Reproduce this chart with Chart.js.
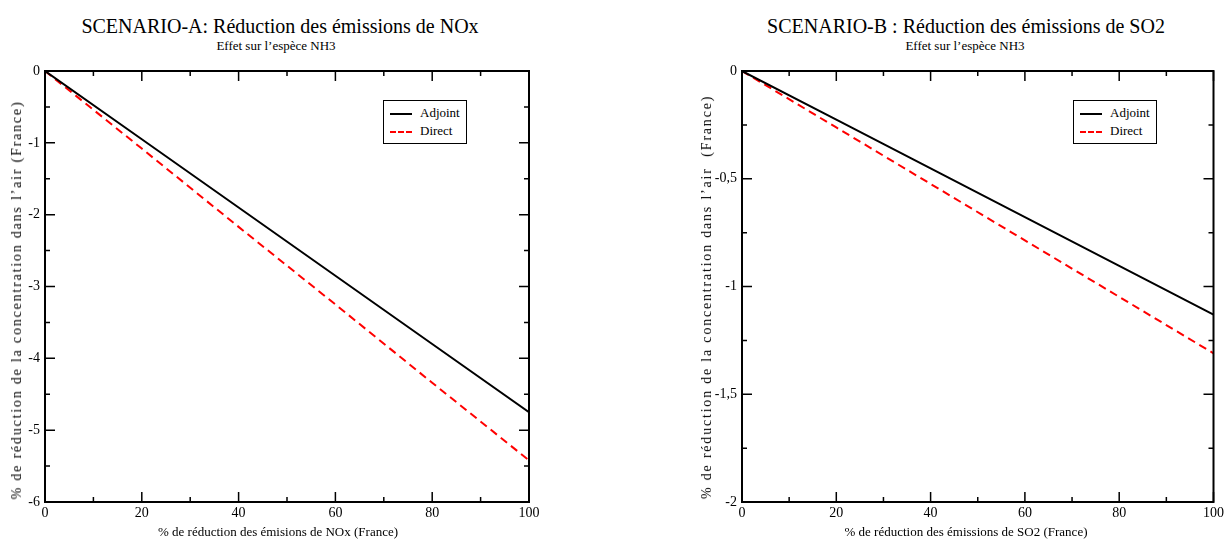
<!DOCTYPE html>
<html>
<head>
<meta charset="utf-8">
<script src="https://cdn.jsdelivr.net/npm/chart.js@4.4.1/dist/chart.umd.min.js"></script>
<style>
  body { margin: 0; background: #fff; width: 1227px; height: 541px; overflow: hidden; position: relative;
         font-family: "Liberation Serif", "Times New Roman", serif; color: #000; }
  .wrap { position: absolute; top: 0; }
  .title { position: absolute; font-size: 20px; line-height: 1; white-space: nowrap; transform: translateX(-50%); }
  .sub { position: absolute; font-size: 13px; line-height: 1; white-space: nowrap; transform: translateX(-50%); }
  .xt { position: absolute; font-size: 13px; line-height: 1; white-space: nowrap; transform: translateX(-50%); }
  .yt { position: absolute; font-size: 14px; line-height: 1; white-space: nowrap; letter-spacing: 1.8px;
        transform: translate(-50%, -50%) rotate(-90deg); }
  .legend { position: absolute; border: 1px solid #000; background: #fff; font-size: 13px; padding: 3px 6px 3px 6px; }
  .legend div { height: 18px; line-height: 18px; white-space: nowrap; }
  .sw { display: inline-block; width: 22px; height: 0; vertical-align: middle; margin-right: 8px; }
  .sw.adj { border-top: 2px solid #000; }
  .sw.dir { border-top: 2px dashed #ff0000; }
</style>
</head>
<body>

<div class="title" style="left:280px; top:16px;">SCENARIO-A: Réduction des émissions de NOx</div>
<div class="sub" style="left:276px; top:39px;">Effet sur l’espèce NH3</div>
<div class="title" style="left:966px; top:16px;">SCENARIO-B : Réduction des émissions de SO2</div>
<div class="sub" style="left:965px; top:39px;">Effet sur l’espèce NH3</div>

<div class="wrap" style="left:0px;"><canvas id="chartA" width="545" height="541"></canvas></div>
<div class="wrap" style="left:690px;"><canvas id="chartB" width="537" height="541"></canvas></div>

<div class="xt" style="left:278px; top:525px;">% de réduction des émisions de NOx (France)</div>
<div class="xt" style="left:966px; top:525px;">% de réduction des émissions de SO2 (France)</div>
<div class="yt" style="left:17px; top:300px;">% de réduction de la concentration dans l’air (France)</div>
<div class="yt" style="left:707px; top:297px;">% de réduction de la concentration dans l’air&nbsp; (France)</div>

<div class="legend" style="left:383px; top:100px;">
  <div><span class="sw adj"></span>Adjoint</div>
  <div><span class="sw dir"></span>Direct</div>
</div>
<div class="legend" style="left:1073px; top:100px;">
  <div><span class="sw adj"></span>Adjoint</div>
  <div><span class="sw dir"></span>Direct</div>
</div>

<script>
// ------------------------------------------------------------
// data
// ------------------------------------------------------------
const xPct = [0, 20, 40, 60, 80, 100];

const adjointNOx = [0, -0.95, -1.90, -2.85, -3.80, -4.75];
const directNOx  = [0, -1.08, -2.17, -3.25, -4.34, -5.42];

const adjointSO2 = [0, -0.226, -0.452, -0.678, -0.904, -1.13];
const directSO2  = [0, -0.262, -0.524, -0.786, -1.048, -1.31];

const xTicks = [0, 20, 40, 60, 80, 100];
const yTicksA = [0, -1, -2, -3, -4, -5, -6];
const yTicksB = [0, -0.5, -1, -1.5, -2];

const SERIF = "'Liberation Serif', 'Times New Roman', serif";
const tickFont = { family: SERIF, size: 14 };

const toPoints = (xs, ys) => xs.map((x, i) => ({ x, y: ys[i] }));

// frame + inward ticks (major and minor) on all four sides
const framePlugin = {
  id: "frame",
  afterDatasetsDraw(chart) {
    const { ctx, chartArea: a, scales } = chart;
    const MAJ = 10, MIN = 5;
    ctx.save();
    ctx.strokeStyle = "#000";
    ctx.lineWidth = 1.5;
    const xs = scales.x, ys = scales.y;
    const xv = xs.ticks.map(t => t.value);
    const yv = ys.ticks.map(t => t.value);
    ctx.beginPath();
    xv.forEach((v, i) => {
      const px = xs.getPixelForValue(v);
      ctx.moveTo(px, a.bottom); ctx.lineTo(px, a.bottom - MAJ);
      ctx.moveTo(px, a.top); ctx.lineTo(px, a.top + MAJ);
      if (i < xv.length - 1) {
        const m = xs.getPixelForValue((v + xv[i + 1]) / 2);
        ctx.moveTo(m, a.bottom); ctx.lineTo(m, a.bottom - MIN);
        ctx.moveTo(m, a.top); ctx.lineTo(m, a.top + MIN);
      }
    });
    yv.forEach((v, i) => {
      const py = ys.getPixelForValue(v);
      ctx.moveTo(a.left, py); ctx.lineTo(a.left + MAJ, py);
      ctx.moveTo(a.right, py); ctx.lineTo(a.right - MAJ, py);
      if (i < yv.length - 1) {
        const m = ys.getPixelForValue((v + yv[i + 1]) / 2);
        ctx.moveTo(a.left, m); ctx.lineTo(a.left + MIN, m);
        ctx.moveTo(a.right, m); ctx.lineTo(a.right - MIN, m);
      }
    });
    ctx.stroke();
    ctx.lineWidth = 2;
    ctx.strokeRect(a.left, a.top, a.right - a.left, a.bottom - a.top);
    ctx.restore();
  }
};

function makeChart(id, cfg) {
  return new Chart(document.getElementById(id), {
    type: "line",
    data: {
      datasets: [
        { label: "Adjoint", data: toPoints(xPct, cfg.adj), borderColor: "#000000",
          borderWidth: 2, pointRadius: 0, tension: 0 },
        { label: "Direct", data: toPoints(xPct, cfg.dir), borderColor: "#ff0000",
          borderWidth: 2, borderDash: [8, 5], pointRadius: 0, tension: 0 },
      ]
    },
    options: {
      responsive: false,
      animation: false,
      layout: { padding: { top: 71, right: cfg.padRight, left: 0, bottom: 0 } },
      plugins: { legend: { display: false }, tooltip: { enabled: false } },
      scales: {
        x: {
          type: "linear", min: 0, max: 100,
          afterBuildTicks: s => { s.ticks = xTicks.map(v => ({ value: v })); },
          ticks: { font: tickFont, color: "#000", padding: 3, maxRotation: 0, autoSkip: false },
          grid: { display: false, drawTicks: false },
          border: { display: false },
          afterFit: s => { s.height = 39; },
        },
        y: {
          type: "linear", min: cfg.yTicks[cfg.yTicks.length - 1], max: 0,
          afterBuildTicks: s => { s.ticks = cfg.yTicks.map(v => ({ value: v })); },
          ticks: { font: tickFont, color: "#000", padding: 5, autoSkip: false,
                   callback: v => String(v).replace(".", ",") },
          grid: { display: false, drawTicks: false },
          border: { display: false },
          afterFit: s => { s.width = cfg.yWidth; },
        }
      }
    },
    plugins: [framePlugin]
  });
}

makeChart("chartA", {
  adj: adjointNOx, dir: directNOx, yTicks: yTicksA,
  yWidth: 45, padRight: 16,
});

makeChart("chartB", {
  adj: adjointSO2, dir: directSO2, yTicks: yTicksB,
  yWidth: 52, padRight: 10,
});
</script>
</body>
</html>
